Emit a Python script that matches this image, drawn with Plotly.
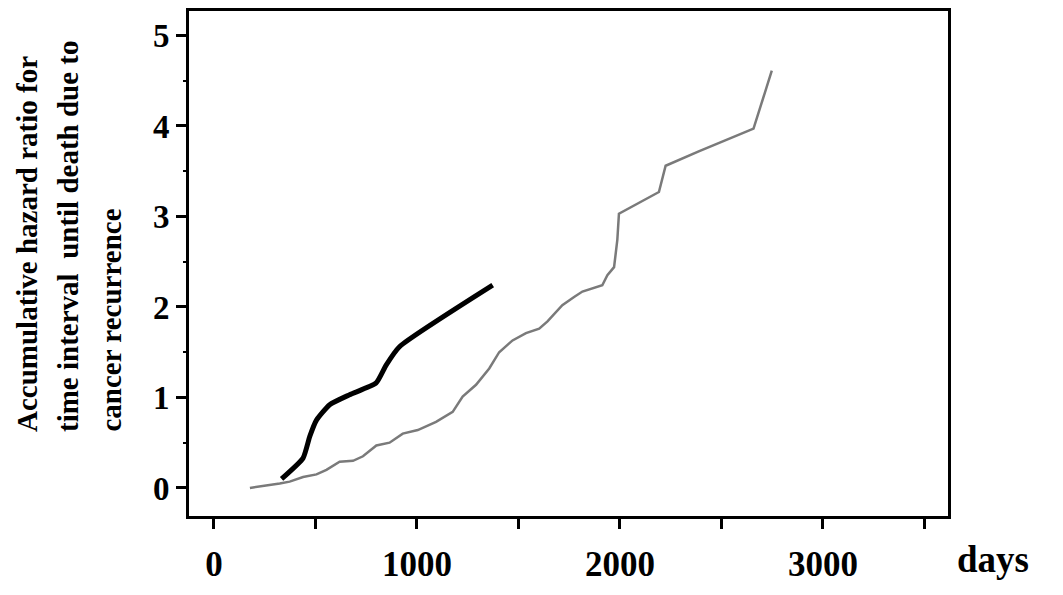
import plotly.graph_objects as go

# accumulative hazard ratio curves
days_gray = [177, 259, 324, 373, 439, 505, 554, 619, 685, 734, 800, 865, 930, 1004,
             1094, 1176, 1225, 1291, 1356, 1405, 1471, 1537, 1602, 1643, 1716, 1774,
             1815, 1913, 1938, 1971, 1987, 1995, 2192, 2225, 2388, 2658, 2748]
hazard_gray = [0.00, 0.025, 0.05, 0.07, 0.12, 0.15, 0.20, 0.29, 0.30, 0.35, 0.47, 0.50,
               0.60, 0.64, 0.73, 0.84, 1.01, 1.14, 1.32, 1.50, 1.63, 1.71, 1.76, 1.84,
               2.02, 2.11, 2.17, 2.24, 2.35, 2.44, 2.74, 3.03, 3.27, 3.56, 3.72, 3.97, 4.61]

days_black = [333, 439, 472, 505, 570, 668, 799, 849, 914, 1373]
hazard_black = [0.10, 0.33, 0.57, 0.75, 0.92, 1.03, 1.16, 1.36, 1.56, 2.24]

x_ticks = [0, 500, 1000, 1500, 2000, 2500, 3000, 3500]
x_ticklabels = ['0', '', '1000', '', '2000', '', '3000', '']
y_ticks = [0, 1, 2, 3, 4, 5]

title_lines = ['Accumulative hazard ratio for',
               'time interval  until death due to',
               'cancer recurrence']

SERIF = 'Liberation Serif'

fig = go.Figure()
fig.add_trace(go.Scatter(x=days_gray, y=hazard_gray, mode='lines',
                         line=dict(color='#7a7a7a', width=2.5)))
fig.add_trace(go.Scatter(x=days_black, y=hazard_black, mode='lines',
                         line=dict(color='black', width=5, shape='spline', smoothing=0.5)))

# page body adds 8px offset, so margins are shifted by that
fig.update_layout(
    width=1063, height=595,
    margin=dict(l=181, r=123, t=3, b=87, autoexpand=False),
    paper_bgcolor='white', plot_bgcolor='white',
    showlegend=False,
)

fig.update_xaxes(range=[-123, 3616], tickvals=x_ticks, ticktext=x_ticklabels,
                 showline=True, linecolor='black', linewidth=3, mirror=True,
                 ticks='outside', ticklen=10, tickwidth=3, tickcolor='black',
                 showgrid=False, zeroline=False, ticklabelstandoff=5, automargin=False,
                 tickfont=dict(family=SERIF, size=35, color='black', weight='bold'))
fig.update_yaxes(range=[-0.31, 5.27], tickvals=y_ticks,
                 showline=True, linecolor='black', linewidth=3, mirror=True,
                 ticks='outside', ticklen=10, tickwidth=3, tickcolor='black',
                 minor=dict(dtick=0.5, ticks='outside', ticklen=3, tickwidth=2, tickcolor='black'),
                 showgrid=False, zeroline=False, automargin=False,
                 tickfont=dict(family=SERIF, size=33, color='black', weight='bold'))

# x axis unit label
fig.add_annotation(text='days', xref='paper', yref='paper', x=1.009, y=-0.087,
                   xanchor='left', yanchor='middle', showarrow=False,
                   font=dict(family=SERIF, size=37, color='black', weight='bold'))

# multi-line y title, lines start at a common baseline
for px_x, line in zip([27, 68, 110], title_lines):
    fig.add_annotation(text=line, xref='paper', yref='paper',
                       x=(px_x - 189) / 759, y=(516 - 434) / 505,
                       xanchor='center', yanchor='bottom', textangle=-90, showarrow=False,
                       font=dict(family=SERIF, size=29, color='black', weight='bold'))

fig.write_html("out.html")
